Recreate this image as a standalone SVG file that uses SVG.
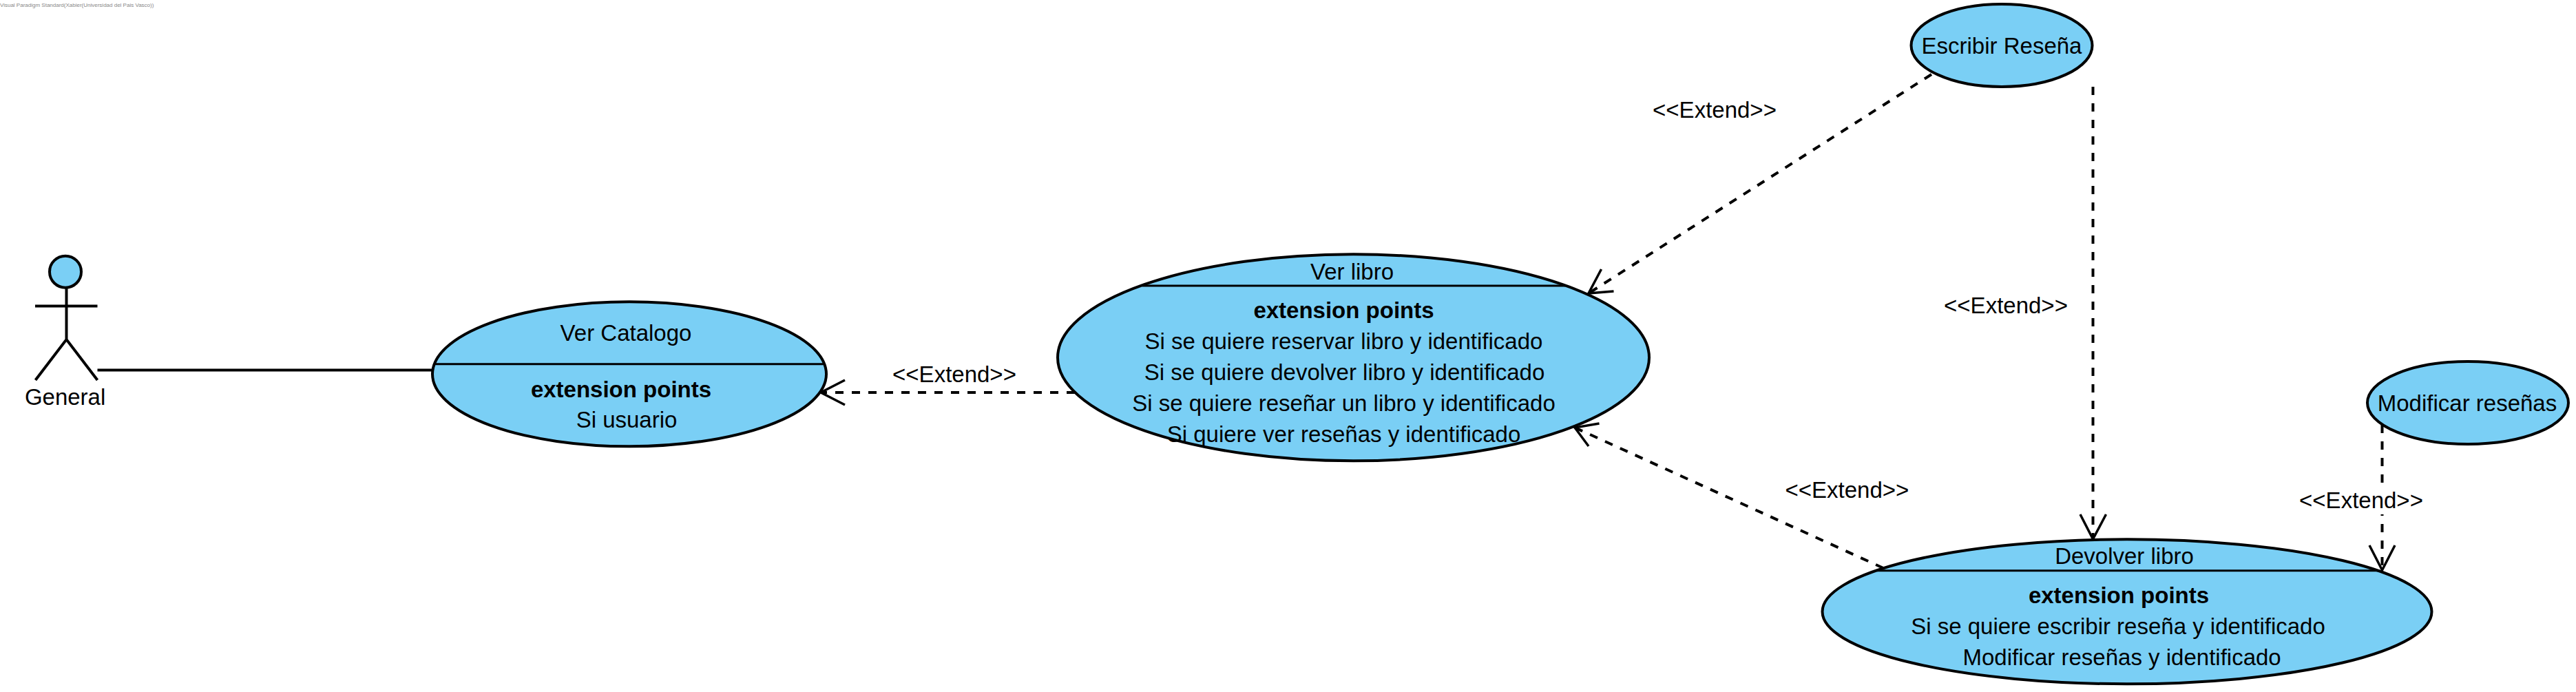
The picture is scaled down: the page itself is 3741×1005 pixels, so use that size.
<svg xmlns="http://www.w3.org/2000/svg" width="3741" height="1005" viewBox="0 0 3741 1005">
<style>
text{font-family:"Liberation Sans",Arial,sans-serif;font-size:33px;fill:#000;text-anchor:middle}
.b{font-weight:bold}
.wm{font-size:8px;fill:#888;text-anchor:start}
.uc{fill:#7ACFF5;stroke:#000;stroke-width:4}
.div{stroke:#000;stroke-width:3;fill:none}
.line{stroke:#000;stroke-width:4;fill:none}
.dash{stroke:#000;stroke-width:4;fill:none;stroke-dasharray:12 12}
.head{stroke:#000;stroke-width:3.5;fill:none}
</style>
<rect width="3741" height="1005" fill="#fff"/>
<text class="wm" x="0" y="10">Visual Paradigm Standard(Xabier(Universidad del Pais Vasco))</text>
<g id="connectors">
<line class="line" x1="141.5" y1="537.5" x2="628" y2="537.5"/>
<line class="dash" x1="1561" y1="570" x2="1192" y2="570"/>
<path class="head" d="M1227 552L1192 570L1227 588"/>
<line class="dash" x1="2805" y1="108" x2="2307" y2="426"/>
<path class="head" d="M2325.5 391L2307 426L2343.5 423"/>
<line class="dash" x1="2735" y1="825" x2="2287" y2="621"/>
<path class="head" d="M2322.5 615L2287 621L2307 648"/>
<line class="dash" x1="3039.5" y1="126" x2="3039.5" y2="783"/>
<path class="head" d="M3021 747L3039.5 783L3058.5 747"/>
<line class="dash" x1="3459.5" y1="617" x2="3459.5" y2="828"/>
<path class="head" d="M3441 792L3459.5 828L3478 792"/>
<rect x="3340" y="707" width="178" height="40" fill="#fff"/>
</g>
<g id="actor-general">
<ellipse class="uc" cx="95" cy="394.7" rx="23" ry="23"/>
<path class="line" d="M96.5 418V493M51 444.5H141.5M51.5 552L96.5 493L141.5 552"/>
<text x="94.6" y="588">General</text>
</g>
<g id="uc-ver-catalogo">
<ellipse class="uc" cx="914" cy="543.3" rx="286" ry="105"/>
<line class="div" x1="630" y1="528.7" x2="1196" y2="528.7"/>
<text x="909" y="495">Ver Catalogo</text>
<text class="b" x="902" y="577">extension points</text>
<text x="910" y="621">Si usuario</text>
</g>
<g id="uc-ver-libro">
<ellipse class="uc" cx="1965.5" cy="519.3" rx="429.5" ry="150"/>
<line class="div" x1="1659" y1="415" x2="2273" y2="415"/>
<text x="1963.5" y="405.5">Ver libro</text>
<text class="b" x="1951.5" y="462">extension points</text>
<text x="1951.5" y="507">Si se quiere reservar libro y identificado</text>
<text x="1952.5" y="552">Si se quiere devolver libro y identificado</text>
<text x="1951.5" y="597">Si se quiere reseñar un libro y identificado</text>
<text x="1951.5" y="642">Si quiere ver reseñas y identificado</text>
</g>
<g id="uc-escribir-resena">
<ellipse class="uc" cx="2907" cy="66" rx="131.5" ry="60"/>
<text x="2907" y="78">Escribir Reseña</text>
</g>
<g id="uc-modificar-resenas">
<ellipse class="uc" cx="3584" cy="585" rx="146" ry="60"/>
<text x="3583" y="597">Modificar reseñas</text>
</g>
<g id="uc-devolver-libro">
<ellipse class="uc" cx="3089" cy="888.3" rx="442.5" ry="105"/>
<line class="div" x1="2726" y1="828.7" x2="3456" y2="828.7"/>
<text x="3085" y="819">Devolver libro</text>
<text class="b" x="3077" y="876">extension points</text>
<text x="3076" y="921">Si se quiere escribir reseña y identificado</text>
<text x="3081.6" y="966">Modificar reseñas y identificado</text>
</g>
<g id="connector-labels">
<text x="1386" y="555">&lt;&lt;Extend&gt;&gt;</text>
<text x="2490" y="171">&lt;&lt;Extend&gt;&gt;</text>
<text x="2913" y="455">&lt;&lt;Extend&gt;&gt;</text>
<text x="2682.4" y="723">&lt;&lt;Extend&gt;&gt;</text>
<text x="3429" y="738">&lt;&lt;Extend&gt;&gt;</text>
</g>
</svg>
